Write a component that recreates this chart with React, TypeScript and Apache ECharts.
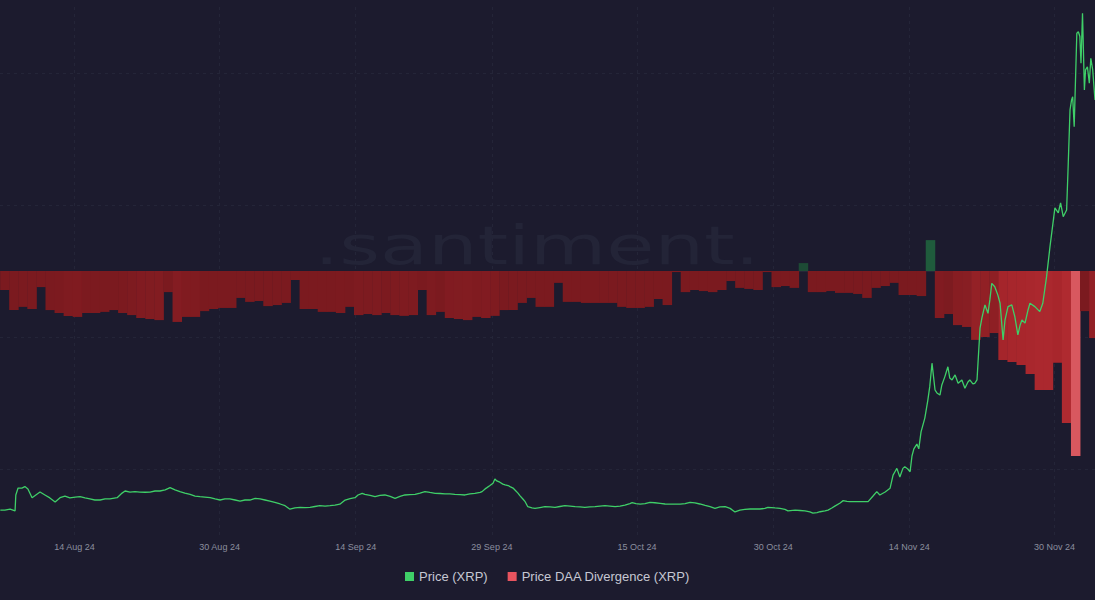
import React, { useEffect, useRef } from "react";
import * as echarts from "echarts";

const HOUR = 3600 * 1000;
const DAY = 24 * HOUR;
const BASE = Date.UTC(2024, 7, 6); // 6 Aug 2024 00:00 UTC

// x-axis tick labels
const xTickDates = ["2024-08-14", "2024-08-30", "2024-09-14", "2024-09-29", "2024-10-15", "2024-10-30", "2024-11-14", "2024-11-30"];
const xTickLabels = ["14 Aug 24", "30 Aug 24", "14 Sep 24", "29 Sep 24", "15 Oct 24", "30 Oct 24", "14 Nov 24", "30 Nov 24"];

// Daily Price DAA Divergence (XRP), from 6 Aug 2024
const divergenceValues = [
  -7.2, -14.8, -13.6, -14.4, -6.1, -14.8, -15.9, -17.0, -17.4, -15.9,
  -15.9, -15.5, -14.8, -15.9, -16.7, -17.8, -18.2, -18.6, -8.0, -19.3,
  -17.4, -17.4, -15.2, -14.4, -14.0, -14.0, -10.2, -11.7, -11.4, -13.3,
  -12.9, -12.1, -3.4, -14.4, -14.4, -15.5, -15.5, -15.9, -13.6, -16.7,
  -16.3, -16.7, -15.9, -16.7, -17.0, -16.7, -7.2, -16.7, -15.5, -17.8,
  -18.2, -18.6, -17.4, -17.8, -17.0, -14.8, -14.8, -12.1, -10.2, -13.6,
  -13.6, -4.5, -11.7, -11.7, -12.1, -12.1, -12.1, -12.1, -13.6, -14.0,
  -14.0, -13.6, -10.6, -12.9, -0.4, -8.0, -7.2, -7.6, -8.0, -7.2,
  -3.8, -6.4, -6.8, -7.2, -0.4, -6.1, -5.7, -6.4, 3.0, -8.0,
  -8.0, -7.6, -8.3, -8.3, -8.7, -10.2, -6.4, -5.7, -4.5, -9.1,
  -9.1, -9.5, 11.7, -17.8, -16.3, -20.5, -21.2, -26.1, -25.0, -23.5,
  -33.7, -34.5, -35.6, -39.0, -45.1, -45.1, -34.8, -57.6, -70.1, -15.2,
  -25.4,
];

// Price (XRP): hours since 6 Aug 2024 00:00 UTC, and USD price
const priceHours = [
  0, 12, 26, 39, 41, 47, 57, 65, 73, 84, 94, 105, 118, 131, 145, 158, 171, 184, 198, 211,
  224, 237, 250, 264, 277, 290, 309, 322, 330, 343, 356, 369, 383, 396, 409, 422, 436, 449, 462, 475,
  488, 502, 515, 528, 541, 555, 568, 581, 594, 607, 621, 634, 647, 660, 674, 687, 700, 713, 726, 740,
  753, 766, 779, 793, 806, 819, 832, 845, 859, 872, 885, 898, 912, 925, 938, 946, 957, 964, 978, 991,
  1004, 1017, 1031, 1044, 1057, 1070, 1083, 1097, 1110, 1123, 1136, 1150, 1163, 1176, 1189, 1202, 1216, 1229, 1242, 1255,
  1269, 1274, 1282, 1287, 1295, 1303, 1308, 1313, 1321, 1329, 1335, 1343, 1348, 1356, 1361, 1369, 1374, 1382, 1388, 1395,
  1406, 1414, 1427, 1440, 1454, 1467, 1480, 1493, 1507, 1520, 1533, 1546, 1559, 1573, 1586, 1599, 1612, 1626, 1639, 1652,
  1665, 1671, 1681, 1692, 1705, 1718, 1731, 1745, 1758, 1771, 1784, 1798, 1811, 1824, 1837, 1850, 1864, 1877, 1890, 1903,
  1917, 1930, 1943, 1956, 1969, 1983, 1996, 2009, 2022, 2030, 2049, 2062, 2075, 2083, 2102, 2115, 2128, 2141, 2149, 2160,
  2168, 2181, 2189, 2199, 2207, 2221, 2229, 2239, 2247, 2260, 2273, 2287, 2295, 2308, 2318, 2326, 2340, 2347, 2353, 2361,
  2366, 2371, 2379, 2387, 2392, 2400, 2406, 2411, 2416, 2424, 2429, 2435, 2445, 2453, 2458, 2464, 2472, 2477, 2485, 2490,
  2498, 2506, 2511, 2517, 2525, 2533, 2543, 2551, 2559, 2564, 2572, 2577, 2583, 2591, 2596, 2604, 2612, 2617, 2622, 2630,
  2638, 2644, 2652, 2657, 2665, 2675, 2683, 2691, 2697, 2702, 2710, 2718, 2723, 2736, 2749, 2757, 2767, 2776, 2785, 2789,
  2798, 2804, 2811, 2820, 2824, 2829, 2833, 2836, 2840, 2847, 2851, 2855, 2858, 2862, 2867, 2870, 2875, 2880, 2884, 2889,
  2895,
];
const priceValues = [
  0.519, 0.519, 0.524, 0.515, 0.591, 0.624, 0.624, 0.631, 0.620, 0.578, 0.591, 0.605, 0.591, 0.577, 0.558, 0.578, 0.586, 0.577, 0.581, 0.583,
  0.577, 0.572, 0.567, 0.567, 0.572, 0.572, 0.578, 0.600, 0.610, 0.605, 0.607, 0.605, 0.604, 0.605, 0.610, 0.610, 0.615, 0.626, 0.615, 0.607,
  0.600, 0.594, 0.586, 0.583, 0.581, 0.578, 0.572, 0.567, 0.572, 0.572, 0.567, 0.562, 0.567, 0.567, 0.575, 0.572, 0.567, 0.562, 0.556, 0.548,
  0.540, 0.523, 0.529, 0.532, 0.531, 0.532, 0.536, 0.540, 0.538, 0.540, 0.543, 0.547, 0.567, 0.574, 0.578, 0.591, 0.599, 0.594, 0.589, 0.583,
  0.589, 0.591, 0.584, 0.575, 0.584, 0.591, 0.593, 0.594, 0.600, 0.607, 0.603, 0.599, 0.598, 0.596, 0.596, 0.594, 0.593, 0.591, 0.596, 0.599,
  0.603, 0.607, 0.620, 0.626, 0.636, 0.647, 0.667, 0.658, 0.652, 0.643, 0.639, 0.636, 0.631, 0.624, 0.615, 0.600, 0.588, 0.572, 0.559, 0.535,
  0.529, 0.527, 0.531, 0.535, 0.534, 0.532, 0.536, 0.540, 0.538, 0.535, 0.534, 0.532, 0.534, 0.535, 0.538, 0.540, 0.538, 0.535, 0.538, 0.543,
  0.550, 0.554, 0.550, 0.547, 0.550, 0.556, 0.554, 0.551, 0.548, 0.547, 0.547, 0.547, 0.550, 0.556, 0.553, 0.548, 0.541, 0.535, 0.527, 0.534,
  0.535, 0.527, 0.510, 0.519, 0.522, 0.524, 0.524, 0.524, 0.527, 0.532, 0.529, 0.527, 0.522, 0.515, 0.519, 0.517, 0.515, 0.510, 0.504, 0.507,
  0.511, 0.515, 0.519, 0.529, 0.538, 0.553, 0.564, 0.560, 0.559, 0.559, 0.559, 0.559, 0.559, 0.586, 0.607, 0.591, 0.605, 0.615, 0.623, 0.686,
  0.702, 0.718, 0.677, 0.718, 0.726, 0.715, 0.702, 0.777, 0.811, 0.834, 0.811, 0.892, 0.958, 1.044, 1.108, 1.220, 1.092, 1.078, 1.068, 1.116,
  1.156, 1.203, 1.149, 1.140, 1.164, 1.124, 1.140, 1.100, 1.130, 1.140, 1.121, 1.124, 1.140, 1.387, 1.436, 1.498, 1.458, 1.522, 1.601, 1.585,
  1.546, 1.506, 1.331, 1.426, 1.490, 1.498, 1.442, 1.355, 1.402, 1.426, 1.411, 1.474, 1.506, 1.490, 1.466, 1.506, 1.633, 1.776, 1.904, 1.961,
  1.937, 1.985, 1.919, 1.951, 2.158, 2.429, 2.476, 2.492, 2.349, 2.795, 2.802, 2.779, 2.652, 2.890, 2.524, 2.620, 2.635, 2.556, 2.675, 2.620,
  2.476,
];

const BG = "#1c1b2e";
const GRID_LINE = "#242538";
const PRICE_GREEN = "#3fcf68";
const LEGEND_RED = "#e8545f";

function hexToRgb(h: string) {
  const n = parseInt(h.slice(1), 16);
  return [(n >> 16) & 255, (n >> 8) & 255, n & 255];
}
function mix(a: string, b: string, t: number) {
  const A = hexToRgb(a), B = hexToRgb(b);
  const c = A.map((v, i) => Math.round(v + (B[i] - v) * Math.max(0, Math.min(1, t))));
  return "rgb(" + c.join(",") + ")";
}
function barColor(v: number) {
  if (v >= 0) return mix("#1c4533", "#1f5c3c", v / 12);
  const m = Math.abs(v) / 70;
  if (m <= 0.22) return "#7b1a1f";
  if (m <= 0.5) return mix("#7b1a1f", "#a8262c", (m - 0.22) / 0.28);
  if (m <= 0.85) return mix("#a8262c", "#b02a30", (m - 0.5) / 0.35);
  return mix("#b02a30", "#d8585f", (m - 0.85) / 0.15);
}

// day offset (fractional) from BASE
const dayOf = (ms: number) => (ms - BASE) / DAY;

export default function App() {
  const ref = useRef<HTMLDivElement>(null);
  useEffect(() => {
    if (!ref.current) return;
    const chart = echarts.init(ref.current, undefined, { renderer: "svg" });
    const tickDays = xTickDates.map((d) => dayOf(Date.parse(d + "T04:00:00Z")));
    const xMin = -0.0342;
    const xMax = 120.627;
    const bars = divergenceValues.map((v, i) => [i + 0.5, v]);
    const line = priceHours.map((h, i) => [h / 24, priceValues[i]]);

    chart.setOption({
      animation: false,
      backgroundColor: BG,
      grid: { left: 0, right: 0, top: 7, bottom: 65, containLabel: false },
      legend: {
        left: "center",
        top: 570,
        padding: 0,
        itemWidth: 9,
        itemHeight: 9,
        itemGap: 20,
        selectedMode: false,
        textStyle: { color: "#c6c8d3", fontSize: 13, fontFamily: "Liberation Sans, Arial, sans-serif" },
        data: [
          { name: "Price (XRP)", icon: "rect", itemStyle: { color: PRICE_GREEN } },
          { name: "Price DAA Divergence (XRP)", icon: "rect", itemStyle: { color: LEGEND_RED } },
        ],
      },
      graphic: [
        {
          type: "text",
          x: 537,
          y: 246,
          scaleX: 1.45,
          z: 0,
          silent: true,
          style: {
            text: ".santiment.",
            fill: "#232437",
            font: "normal 54px 'DejaVu Sans'",
            align: "center",
            verticalAlign: "middle",
          },
        },
      ],
      xAxis: {
        type: "value",
        min: xMin,
        max: xMax,
        axisLine: { show: true, lineStyle: { color: "#26273a", width: 1 } },
        axisTick: { show: false, customValues: tickDays },
        axisLabel: {
          customValues: tickDays,
          color: "#8b8e9e",
          fontSize: 9,
          margin: 7,
          fontFamily: "Liberation Sans, Arial, sans-serif",
          formatter: (val: number) => {
            const i = tickDays.findIndex((t) => Math.abs(t - val) < 0.01);
            return i >= 0 ? xTickLabels[i] : "";
          },
        },
        splitLine: { show: true, lineStyle: { color: GRID_LINE, type: [3, 4], width: 1 } },
      },
      yAxis: [
        {
          type: "value",
          min: -100,
          max: 100,
          axisLine: { show: false },
          axisLabel: { show: false },
          axisTick: { show: false, customValues: [-75, -25, 25, 75] },
          splitLine: { show: true, lineStyle: { color: GRID_LINE, type: [3, 4], width: 1 } },
        },
        {
          type: "value",
          min: 0.4,
          max: 2.92,
          show: false,
          splitLine: { show: false },
        },
      ],
      series: [
        {
          name: "Price DAA Divergence (XRP)",
          type: "bar",
          yAxisIndex: 0,
          barWidth: 9.5,
          data: bars,
          itemStyle: { color: (p: any) => barColor(p.value[1]) },
          z: 2,
        },
        {
          name: "Price (XRP)",
          type: "line",
          yAxisIndex: 1,
          data: line,
          showSymbol: false,
          symbol: "none",
          lineStyle: { color: PRICE_GREEN, width: 1.3 },
          itemStyle: { color: PRICE_GREEN },
          z: 3,
        },
      ],
    });
    return () => chart.dispose();
  }, []);
  return (
    <div
      ref={ref}
      style={{ position: "fixed", left: 0, top: 0, width: 1095, height: 600 }}
    />
  );
}
